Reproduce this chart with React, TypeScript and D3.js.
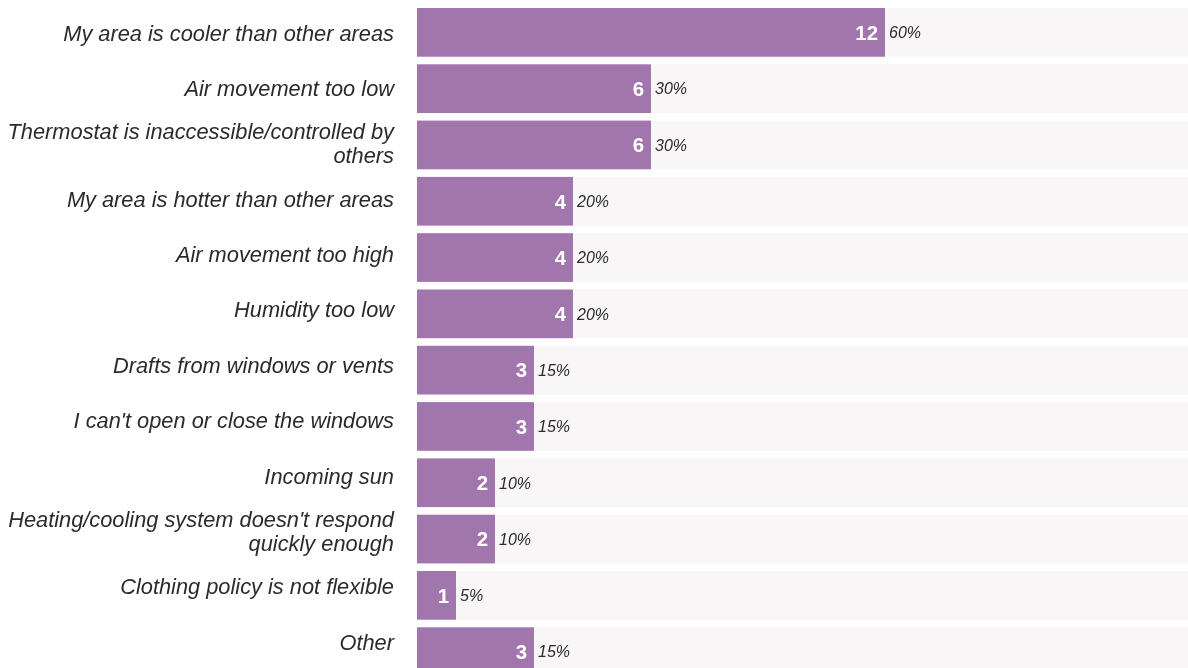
import React from "react";
import * as d3 from "d3";

const categories = [
  "My area is cooler than other areas",
  "Air movement too low",
  "Thermostat is inaccessible/controlled by others",
  "My area is hotter than other areas",
  "Air movement too high",
  "Humidity too low",
  "Drafts from windows or vents",
  "I can't open or close the windows",
  "Incoming sun",
  "Heating/cooling system doesn't respond quickly enough",
  "Clothing policy is not flexible",
  "Other",
];
const counts = [12, 6, 6, 4, 4, 4, 3, 3, 2, 2, 1, 3];
const percents = ["60%", "30%", "30%", "20%", "20%", "20%", "15%", "15%", "10%", "10%", "5%", "15%"];
const totalRespondents = 20;

const W = 1188;
const H = 668;
const FONT = "'Liberation Sans', Arial, sans-serif";
const LABEL_SIZE = 21.8;
const LABEL_MAX = 392;

function wrap(text: string): string[] {
  const canvas = document.createElement("canvas");
  const ctx = canvas.getContext("2d")!;
  ctx.font = `italic ${LABEL_SIZE}px ${FONT}`;
  const words = text.split(" ");
  const lines: string[] = [];
  let cur = "";
  for (const w of words) {
    const test = cur ? cur + " " + w : w;
    if (ctx.measureText(test).width > LABEL_MAX && cur) {
      lines.push(cur);
      cur = w;
    } else cur = test;
  }
  if (cur) lines.push(cur);
  return lines;
}

export default function App() {
  const x = d3.scaleLinear().domain([0, totalRespondents]).range([417, 1197]);
  const step = 56.3;
  const y = d3
    .scaleBand<string>()
    .domain(categories)
    .range([8, 8 + step * (categories.length - 0.135)])
    .paddingInner(0.135)
    .paddingOuter(0);
  const yLabel = d3.scalePoint<string>().domain(categories).range([33, 642]);
  const bw = y.bandwidth();
  return (
    <svg
      width={W}
      height={H}
      style={{ position: "fixed", left: 0, top: 0, overflow: "hidden" }}
      fontFamily={FONT}
    >
      {categories.map((c, i) => {
        const y0 = y(c)!;
        const cy = y0 + bw / 2;
        const lines = wrap(c);
        const lh = 24;
        const start = yLabel(c)! - ((lines.length - 1) * lh) / 2;
        const xe = x(counts[i]);
        return (
          <g key={c}>
            <rect x={x(0)} y={y0} width={W - x(0)} height={bw} fill="#F8F6F7" />
            <rect x={x(0)} y={y0} width={xe - x(0)} height={bw} fill="#A176AC" />
            <text
              x={394}
              textAnchor="end"
              fontStyle="italic"
              fontSize={LABEL_SIZE}
              fill="#2b2b2b"
            >
              {lines.map((l, j) => (
                <tspan key={j} x={394} y={start + j * lh} dy="0.35em">
                  {l}
                </tspan>
              ))}
            </text>
            <text
              x={xe - 7}
              y={cy}
              dy="0.36em"
              textAnchor="end"
              fontWeight="bold"
              fontSize={20.4}
              fill="#ffffff"
            >
              {counts[i]}
            </text>
            <text x={xe + 4} y={cy} dy="0.36em" fontStyle="italic" fontSize={16} fill="#2b2b2b">
              {percents[i]}
            </text>
          </g>
        );
      })}
    </svg>
  );
}
